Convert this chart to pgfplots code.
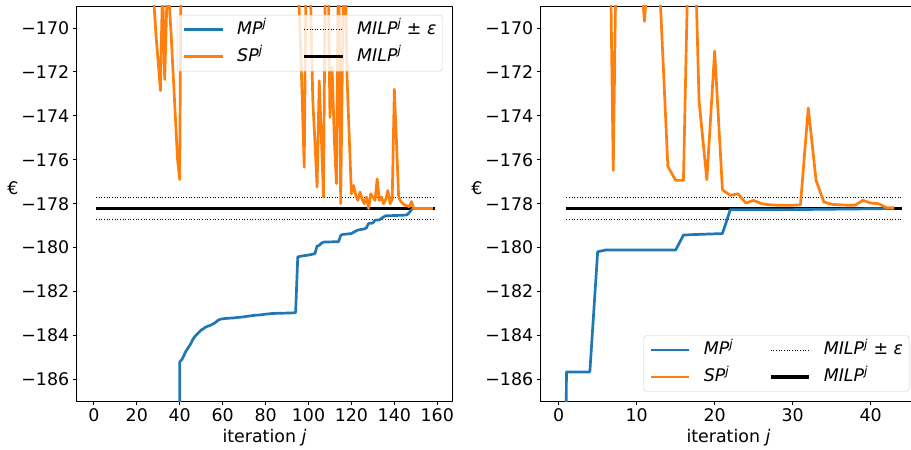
\documentclass[border=0pt]{standalone}
\usepackage{fontspec}
\setmainfont{DejaVu Sans}
\usepackage{pgfplots}
\usepackage{pgfplotstable}
\pgfplotsset{compat=1.18}
\definecolor{mplblue}{HTML}{1F77B4}
\definecolor{mplorange}{HTML}{FF7F0E}

\pgfplotstableread{
x y
0 -260
20 -260
39 -260
40 -185.2
41 -185.1
42 -184.9
43 -184.7
44 -184.55
45 -184.4
46 -184.2
47 -184.05
48 -183.95
49 -183.85
50 -183.75
51 -183.7
52 -183.62
53 -183.58
54 -183.55
55 -183.5
56 -183.45
57 -183.38
58 -183.3
59 -183.26
60 -183.24
62 -183.22
65 -183.2
68 -183.17
70 -183.15
72 -183.12
75 -183.08
78 -183.06
80 -183.03
83 -183.0
86 -182.99
90 -182.98
93 -182.97
94 -182.95
95 -180.42
97 -180.38
100 -180.34
102 -180.3
103 -180.27
104 -179.93
105 -179.9
106 -179.8
107 -179.75
110 -179.74
114 -179.73
115 -179.44
116 -179.4
118 -179.38
120 -179.36
121 -179.3
122 -179.25
123 -179.2
126 -179.15
127 -179.1
128 -178.9
130 -178.88
131 -178.75
133 -178.74
135 -178.6
136 -178.55
140 -178.54
145 -178.52
146 -178.5
147 -178.4
148 -178.27
149 -178.22
158 -178.22
}\mpleft

\pgfplotstableread{
x y
0 -150
5 -155
10 -148
15 -158
20 -152
25 -160
27 -164
28 -168.9
29 -170.4
30 -171.6
31 -172.85
32 -168.0
33 -172.35
34 -168.8
35 -168.7
36 -170.3
37 -172.2
38 -174.1
39 -176.0
40 -176.9
41 -160
50 -158
60 -162
70 -155
80 -160
90 -158
94 -164
95 -167.5
96 -170
97 -173
98 -176.34
99 -166
100 -167
101 -168.7
102 -173.3
103 -175.2
104 -177.24
105 -172.4
106 -175
107 -177.7
108 -165
109 -166
110 -174.07
111 -171.8
112 -175
113 -177.09
114 -166
115 -178.0
116 -170
117 -166
118 -172.34
119 -175
120 -177.55
121 -177.17
122 -177.6
123 -177.85
124 -177.47
125 -177.8
126 -178.0
127 -177.7
128 -178.22
129 -177.55
130 -177.7
131 -177.85
132 -176.87
133 -177.85
134 -177.7
135 -178.0
136 -177.8
137 -177.4
138 -178.0
139 -177.8
140 -172.79
141 -175.2
142 -177.7
143 -177.9
144 -178.0
145 -178.07
146 -178.1
147 -178.14
148 -177.9
149 -178.22
158 -178.22
}\spleft

\pgfplotstableread{
x y
0 -260
1 -185.66
4 -185.66
5 -180.19
6 -180.11
15 -180.11
16 -179.43
17 -179.41
21 -179.36
22 -178.28
30 -178.27
38 -178.24
43 -178.22
}\mpright

\pgfplotstableread{
x y
0 -150
1 -155
2 -150
3 -158
4 -152
5 -155
6 -150
7 -176.49
8 -150
9 -155
10 -165
11 -169.7
12 -165
13 -168.5
14 -176.3
15 -176.94
16 -176.94
17 -160
18 -173.32
19 -176.91
20 -171.06
21 -177.37
22 -177.62
23 -177.55
24 -177.97
25 -177.85
26 -178.0
27 -178.05
28 -178.07
29 -178.07
30 -178.07
31 -178.05
32 -173.64
33 -176.94
34 -177.92
35 -178.03
36 -178.05
37 -178.07
38 -178.07
39 -177.85
40 -177.97
41 -178.0
42 -178.18
43 -178.18
}\spright

\newcommand{\fs}{\fontsize{17.4}{20}\selectfont}

\pgfplotsset{
  myax/.style={
    scale only axis, width=375.6pt, height=395.4pt,
    ymin=-187, ymax=-169,
    ytick={-186,-184,...,-170},
    yticklabels={−186,−184,−182,−180,−178,−176,−174,−172,−170},
    tick align=outside, xtick pos=bottom, ytick pos=left,
    major tick length=4pt,
    every tick/.style={black, line width=0.8pt},
    axis line style={line width=0.8pt},
    ticklabel style={font=\fs},
    label style={font=\fs},
    xlabel={iteration \textit{j}},
    ylabel={€},
    ylabel style={rotate=-90, at={(axis description cs:-0.17,0.54)}, anchor=center},
    legend columns=2,
    legend cell align=left,
    legend style={font=\fs, draw=white!80!black, rounded corners=3pt, fill=white,
      fill opacity=0.8, draw opacity=1, text opacity=1, inner xsep=6pt, inner ysep=6pt,
      row sep=10pt,
      nodes={inner xsep=0pt, inner ysep=0pt, text height=13pt, text depth=4pt},
      /tikz/every odd column/.append style={column sep=13pt},
      /tikz/every even column/.append style={column sep=36pt}},
    legend image code/.code={\draw[##1] (0pt,0pt) -- (38.4pt,0pt);},
    line join=round,
  },
  milp/.style={black, line width=3.2pt, forget plot},
  eps/.style={black, line width=0.9pt, dash pattern=on 1pt off 1.65pt, forget plot},
  mp/.style={mplblue, line width=2.7pt, line join=round},
  sp/.style={mplorange, line width=2.7pt, line join=round},
}

\begin{document}
\begin{tikzpicture}
\begin{axis}[myax,
  xmin=-8, xmax=167,
  xtick={0,20,...,160},
  xticklabels={0,20,40,60,80,100,120,140,160},
  legend style={at={(0.9744,0.9772)}, anchor=north east},
]
\addplot[milp] coordinates {(1,-178.22) (159,-178.22)};
\addplot[eps] coordinates {(1,-177.72) (159,-177.72)};
\addplot[eps] coordinates {(1,-178.72) (159,-178.72)};
\addplot[mp, forget plot] table {\mpleft};
\addplot[sp, forget plot] table {\spleft};
\addlegendimage{mplblue, line width=2.7pt}
\addlegendentry{\textit{MP\textsuperscript{j}}}
\addlegendimage{black, line width=0.9pt, dash pattern=on 1pt off 1.65pt}
\addlegendentry{\textit{MILP\textsuperscript{j}} ± \textit{ε}}
\addlegendimage{mplorange, line width=2.7pt}
\addlegendentry{\textit{SP\textsuperscript{j}}}
\addlegendimage{black, line width=3.2pt}
\addlegendentry{\textit{MILP\textsuperscript{j}}}
\end{axis}

\begin{axis}[myax, at={(464pt,0pt)}, anchor=south west,
  xmin=-2.3, xmax=45.85,
  xtick={0,10,20,30,40},
  xticklabels={0,10,20,30,40},
  legend style={at={(0.9813,0.0245)}, anchor=south east},
]
\addplot[milp] coordinates {(1,-178.22) (44,-178.22)};
\addplot[eps] coordinates {(1,-177.72) (44,-177.72)};
\addplot[eps] coordinates {(1,-178.72) (44,-178.72)};
\addplot[mp, forget plot] table {\mpright};
\addplot[sp, forget plot] table {\spright};
\addlegendimage{mplblue, line width=2.7pt}
\addlegendentry{\textit{MP\textsuperscript{j}}}
\addlegendimage{black, line width=0.9pt, dash pattern=on 1pt off 1.65pt}
\addlegendentry{\textit{MILP\textsuperscript{j}} ± \textit{ε}}
\addlegendimage{mplorange, line width=2.7pt}
\addlegendentry{\textit{SP\textsuperscript{j}}}
\addlegendimage{black, line width=3.2pt}
\addlegendentry{\textit{MILP\textsuperscript{j}}}
\end{axis}
\pgfresetboundingbox
\path[use as bounding box] (-76.7pt,-48.6pt) rectangle (834.3pt,401.4pt);
\end{tikzpicture}
\end{document}
